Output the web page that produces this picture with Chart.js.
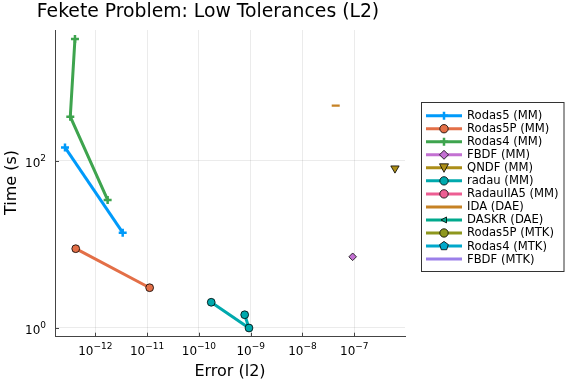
<!DOCTYPE html>
<html lang="en">
<head>
    <meta charset="UTF-8">
    <title>Fekete Problem: Low Tolerances (L2)</title>
    <script src="https://cdn.jsdelivr.net/npm/chart.js"></script>
    <style>
        body {
            margin: 0;
            padding: 0;
            background: white;
        }
        .chart-box {
            width: 576px;
            height: 384px;
            position: relative;
        }
    </style>
</head>
<body>
    <div class="chart-box">
        <canvas id="workPrecision"></canvas>
    </div>

    <script>
        // series names, in legend order
        const seriesNames = [
            'Rodas5 (MM)', 'Rodas5P (MM)', 'Rodas4 (MM)', 'FBDF (MM)', 'QNDF (MM)',
            'radau (MM)', 'RadauIIA5 (MM)', 'IDA (DAE)', 'DASKR (DAE)',
            'Rodas5P (MTK)', 'Rodas4 (MTK)', 'FBDF (MTK)'
        ];
        const seriesColors = [
            '#009AFA', '#E36F47', '#3EA44E', '#C371D2', '#AC8E18',
            '#00A9AD', '#ED5E93', '#C68225', '#00A98D',
            '#8E971E', '#00A8CB', '#9B7FE9'
        ];
        const seriesMarkers = [
            'cross', 'circle', 'cross', 'diamond', 'dtriangle',
            'circle', 'circle', 'hline', 'ltriangle',
            'circle', 'pentagon', 'none'
        ];

        // error (l2) and time (s)
        const rodas5MMErr = [2.6e-13, 3.38e-12];
        const rodas5MMTime = [144, 13.8];
        const rodas5PMMErr = [4.19e-13, 1.12e-11];
        const rodas5PMMTime = [8.87, 3.03];
        const rodas4MMErr = [4.05e-13, 3.29e-13, 1.73e-12];
        const rodas4MMTime = [2850, 336, 33.9];
        const fbdfMMErr = [9.3e-8];
        const fbdfMMTime = [7.1];
        const qndfMMErr = [6.1e-7];
        const qndfMMTime = [81];
        const radauMMErr = [1.73e-10, 9.27e-10, 7.66e-10];
        const radauMMTime = [2.03, 1.0, 1.44];
        const idaErr = [4.38e-8];
        const idaTime = [455];
        // no visible points for these
        const radauIIA5Err = [], radauIIA5Time = [];
        const daskrErr = [], daskrTime = [];
        const rodas5PMTKErr = [], rodas5PMTKTime = [];
        const rodas4MTKErr = [], rodas4MTKTime = [];
        const fbdfMTKErr = [], fbdfMTKTime = [];

        const seriesErr = [rodas5MMErr, rodas5PMMErr, rodas4MMErr, fbdfMMErr, qndfMMErr,
            radauMMErr, radauIIA5Err, idaErr, daskrErr, rodas5PMTKErr, rodas4MTKErr, fbdfMTKErr];
        const seriesTime = [rodas5MMTime, rodas5PMMTime, rodas4MMTime, fbdfMMTime, qndfMMTime,
            radauMMTime, radauIIA5Time, idaTime, daskrTime, rodas5PMTKTime, rodas4MTKTime, fbdfMTKTime];

        // ticks: value and its power-of-ten exponent text
        const xTicks = [1e-12, 1e-11, 1e-10, 1e-9, 1e-8, 1e-7];
        const xTickExps = ['−12', '−11', '−10', '−9', '−8', '−7'];
        const yTicks = [1, 100];
        const yTickExps = ['0', '2'];

        const FONT = "'DejaVu Sans', sans-serif";

        // chart.js point options for each marker kind
        function pointOpts(marker, color) {
            switch (marker) {
                case 'cross': return { pointStyle: 'cross', radius: 4, borderColor: color, borderWidth: 2.5, rotation: 0 };
                case 'circle': return { pointStyle: 'circle', radius: 3.9, borderColor: '#000', borderWidth: 0.8, rotation: 0 };
                case 'diamond': return { pointStyle: 'rectRot', radius: 3.8, borderColor: '#000', borderWidth: 0.8, rotation: 0 };
                case 'dtriangle': return { pointStyle: 'triangle', radius: 4.8, borderColor: '#000', borderWidth: 0.8, rotation: 180 };
                case 'ltriangle': return { pointStyle: 'triangle', radius: 3, borderColor: '#000', borderWidth: 0.8, rotation: 270 };
                case 'hline': return { pointStyle: 'line', radius: 4, borderColor: color, borderWidth: 2.2, rotation: 0 };
                default: return { pointStyle: 'circle', radius: 3.9, borderColor: '#000', borderWidth: 0.8, rotation: 0 };
            }
        }

        const datasets = seriesNames.map((name, i) => {
            const p = pointOpts(seriesMarkers[i], seriesColors[i]);
            return {
                label: name,
                data: seriesErr[i].map((e, j) => ({ x: e, y: seriesTime[i][j] })),
                showLine: true,
                borderColor: seriesColors[i],
                backgroundColor: seriesColors[i],
                borderWidth: 3,
                pointStyle: p.pointStyle,
                pointRadius: p.radius,
                pointRotation: p.rotation,
                pointBackgroundColor: seriesColors[i],
                pointBorderColor: p.borderColor,
                pointBorderWidth: p.borderWidth
            };
        });

        // legend marker drawing (own, so the pentagon and box can be matched)
        function drawMarker(ctx, marker, color, x, y) {
            ctx.save();
            ctx.fillStyle = color;
            ctx.strokeStyle = '#000';
            ctx.lineWidth = 0.8;
            ctx.beginPath();
            if (marker === 'cross') {
                ctx.strokeStyle = color;
                ctx.lineWidth = 2.5;
                ctx.moveTo(x - 4, y); ctx.lineTo(x + 4, y);
                ctx.moveTo(x, y - 4); ctx.lineTo(x, y + 4);
                ctx.stroke();
            } else if (marker === 'circle') {
                ctx.arc(x, y, 4.2, 0, Math.PI * 2);
                ctx.fill(); ctx.stroke();
            } else if (marker === 'diamond') {
                ctx.moveTo(x, y - 4.5); ctx.lineTo(x + 4.5, y); ctx.lineTo(x, y + 4.5); ctx.lineTo(x - 4.5, y);
                ctx.closePath(); ctx.fill(); ctx.stroke();
            } else if (marker === 'dtriangle') {
                ctx.moveTo(x - 4.5, y - 4); ctx.lineTo(x + 4.5, y - 4); ctx.lineTo(x, y + 4.5);
                ctx.closePath(); ctx.fill(); ctx.stroke();
            } else if (marker === 'ltriangle') {
                ctx.moveTo(x - 3, y); ctx.lineTo(x + 2.5, y - 3); ctx.lineTo(x + 2.5, y + 3);
                ctx.closePath(); ctx.fill(); ctx.stroke();
            } else if (marker === 'pentagon') {
                for (let k = 0; k < 5; k++) {
                    const a = -Math.PI / 2 + k * 2 * Math.PI / 5;
                    const px = x + 4.6 * Math.cos(a), py = y + 4.6 * Math.sin(a);
                    if (k === 0) ctx.moveTo(px, py); else ctx.lineTo(px, py);
                }
                ctx.closePath(); ctx.fill(); ctx.stroke();
            }
            ctx.restore();
        }

        // "10" with a raised exponent; align is 'center' or 'right'
        function drawPow(ctx, exp, x, y, align) {
            ctx.font = '12px ' + FONT;
            const wb = ctx.measureText('10').width;
            ctx.font = '9px ' + FONT;
            const we = ctx.measureText(exp).width;
            const left = align === 'center' ? x - (wb + we) / 2 : x - (wb + we);
            ctx.textAlign = 'left';
            ctx.textBaseline = 'alphabetic';
            ctx.font = '12px ' + FONT;
            ctx.fillText('10', left, y + 4.5);
            ctx.font = '9px ' + FONT;
            ctx.fillText(exp, left + wb, y - 1.5);
        }

        const decorations = {
            id: 'decorations',
            afterDraw(chart) {
                const ctx = chart.ctx;
                const area = chart.chartArea;
                const xs = chart.scales.x, ys = chart.scales.y;
                ctx.save();

                // inward tick marks
                ctx.strokeStyle = '#444';
                ctx.lineWidth = 1;
                ctx.beginPath();
                xTicks.forEach(v => {
                    const px = Math.round(xs.getPixelForValue(v)) + 0.5;
                    ctx.moveTo(px, area.bottom); ctx.lineTo(px, area.bottom - 4);
                });
                yTicks.forEach(v => {
                    const py = Math.round(ys.getPixelForValue(v)) + 0.5;
                    ctx.moveTo(area.left, py); ctx.lineTo(area.left + 4, py);
                });
                ctx.stroke();

                // tick labels
                ctx.fillStyle = '#000';
                xTicks.forEach((v, i) => drawPow(ctx, xTickExps[i], xs.getPixelForValue(v), area.bottom + 14, 'center'));
                yTicks.forEach((v, i) => drawPow(ctx, yTickExps[i], area.left - 9, ys.getPixelForValue(v) + 1.5, 'right'));

                // title and axis titles
                ctx.textAlign = 'center';
                ctx.textBaseline = 'middle';
                ctx.font = '18.8px ' + FONT;
                ctx.fillText('Fekete Problem: Low Tolerances (L2)', 208, 12);
                ctx.font = '16px ' + FONT;
                ctx.fillText('Error (l2)', 230, 372);
                ctx.save();
                ctx.translate(12, 182.5);
                ctx.rotate(-Math.PI / 2);
                ctx.fillText('Time (s)', 0, 0);
                ctx.restore();

                // legend box
                const lx = 421.5, ly = 102.5, lw = 142.5, lh = 169;
                ctx.fillStyle = '#fff';
                ctx.fillRect(lx, ly, lw, lh);
                ctx.strokeStyle = '#333';
                ctx.lineWidth = 1;
                ctx.strokeRect(lx, ly, lw, lh);

                ctx.font = '11.6px ' + FONT;
                ctx.textAlign = 'left';
                seriesNames.forEach((name, i) => {
                    const y = 115.7 + i * 13.03;
                    ctx.strokeStyle = seriesColors[i];
                    ctx.lineWidth = 3;
                    ctx.beginPath();
                    ctx.moveTo(426, y); ctx.lineTo(462, y);
                    ctx.stroke();
                    drawMarker(ctx, seriesMarkers[i], seriesColors[i], 444, y);
                    ctx.fillStyle = '#000';
                    ctx.fillText(name, 467, y + 0.5);
                });
                ctx.restore();
            }
        };

        new Chart(document.getElementById('workPrecision').getContext('2d'), {
            type: 'scatter',
            data: { datasets: datasets },
            options: {
                responsive: true,
                maintainAspectRatio: false,
                animation: false,
                layout: { padding: { left: 0, top: 30, right: 171, bottom: 0 } },
                plugins: {
                    legend: { display: false },
                    title: { display: false },
                    tooltip: { enabled: false }
                },
                elements: { line: { tension: 0 } },
                scales: {
                    x: {
                        type: 'logarithmic',
                        min: Math.pow(10, -12.778),
                        max: Math.pow(10, -6.021),
                        afterFit(scale) { scale.height = 47.3; },
                        afterBuildTicks(scale) { scale.ticks = xTicks.map(v => ({ value: v })); },
                        grid: { color: 'rgba(0,0,0,0.08)', drawTicks: false },
                        border: { color: '#444', width: 1 },
                        ticks: { display: false }
                    },
                    y: {
                        type: 'logarithmic',
                        min: Math.pow(10, -0.104),
                        max: Math.pow(10, 3.562),
                        afterFit(scale) { scale.width = 55; },
                        afterBuildTicks(scale) { scale.ticks = yTicks.map(v => ({ value: v })); },
                        grid: { color: 'rgba(0,0,0,0.08)', drawTicks: false },
                        border: { color: '#444', width: 1 },
                        ticks: { display: false }
                    }
                }
            },
            plugins: [decorations]
        });
    </script>
</body>
</html>
